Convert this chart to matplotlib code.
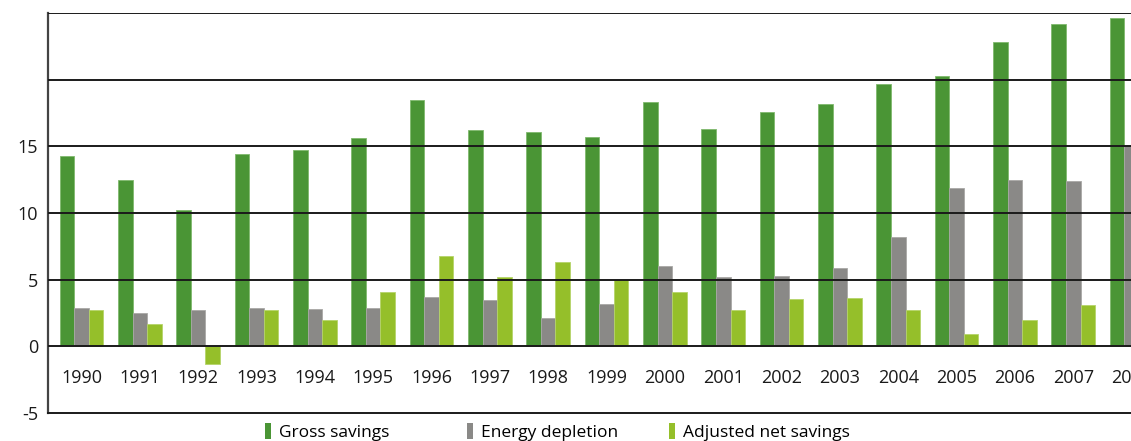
import matplotlib
matplotlib.use('Agg')
import matplotlib.pyplot as plt
from matplotlib import rc
import numpy as np

rc('font', **{'family': ['Open Sans', 'DejaVu Sans'], 'size': 12.5})

colors = {
    'gross': '#4a9535',
    'gross_edge': '#7fb96d',
    'energy': '#8a8987',
    'energy_edge': '#a9a8a6',
    'adjusted': '#95bf2a',
    'adjusted_edge': '#b5d46a',
    'line': '#1a1a1a',
}

years = [str(y) for y in range(1990, 2009)]
gross_savings = [14.25, 12.5, 10.2, 14.4, 14.7, 15.6, 18.45, 16.2, 16.1, 15.7,
                 18.3, 16.3, 17.55, 18.15, 19.65, 20.3, 22.8, 24.2, 24.6]
energy_depletion = [2.9, 2.5, 2.7, 2.9, 2.8, 2.9, 3.7, 3.45, 2.1, 3.15,
                    6.0, 5.2, 5.3, 5.85, 8.2, 11.85, 12.45, 12.4, 15.0]
# 2008 value is cut off in the source picture
adjusted_net_savings = [2.7, 1.65, -1.35, 2.7, 2.0, 4.1, 6.8, 5.2, 6.3, 4.95,
                        4.05, 2.7, 3.55, 3.6, 2.7, 0.9, 1.95, 3.1, np.nan]

yticks = [-5, 0, 5, 10, 15]
gridlines = [0, 5, 10, 15, 20, 25]

if __name__ == "__main__":
    fig = plt.figure(figsize=(11.31, 4.41), dpi=100)
    ax = fig.add_axes([48 / 1131, 28 / 441, 1083 / 1131, 400 / 441])

    x = np.arange(len(years))
    w = 0.25
    b1 = ax.bar(x - w, gross_savings, w, color=colors['gross'], edgecolor=colors['gross_edge'],
                linewidth=0.6, label='Gross savings', zorder=2)
    b2 = ax.bar(x, energy_depletion, w, color=colors['energy'], edgecolor=colors['energy_edge'],
                linewidth=0.6, label='Energy depletion', zorder=2)
    b3 = ax.bar(x + w, adjusted_net_savings, w, color=colors['adjusted'], edgecolor=colors['adjusted_edge'],
                linewidth=0.6, label='Adjusted net savings', zorder=2)

    for g in gridlines:
        ax.axhline(g, color=colors['line'], lw=1.4, zorder=3)

    ax.set_xlim(-0.574, 17.99)
    ax.set_ylim(-5, 25)

    for xi, yr in zip(x, years):
        ax.text(xi, -2.4, yr, ha='center', va='center', fontsize=13, color='#1a1a1a',
                clip_on=False)

    ax.set_xticks([])
    ax.set_yticks(yticks)
    ax.set_yticklabels([str(t) for t in yticks], color='#1a1a1a', fontsize=13)
    ax.tick_params(axis='y', length=0, pad=7)

    for side in ['top', 'right']:
        ax.spines[side].set_visible(False)
    ax.spines['left'].set_color('#444444')
    ax.spines['left'].set_linewidth(1.6)
    ax.spines['bottom'].set_color(colors['line'])
    ax.spines['bottom'].set_linewidth(1.4)

    # one legend per entry so the entries sit at even spacing like the original
    for bars, xpos in zip([b1, b2, b3], [265, 467, 669]):
        leg = fig.legend(handles=[bars], loc='center left', bbox_to_anchor=(xpos / 1131, 1 - 432 / 441),
                         frameon=False, handlelength=0.35, handleheight=1.0, handletextpad=0.45,
                         borderaxespad=0, borderpad=0, fontsize=12.5)
        for h in leg.legend_handles:
            h.set_linewidth(0)

    fig.savefig('out.png', dpi=100)
